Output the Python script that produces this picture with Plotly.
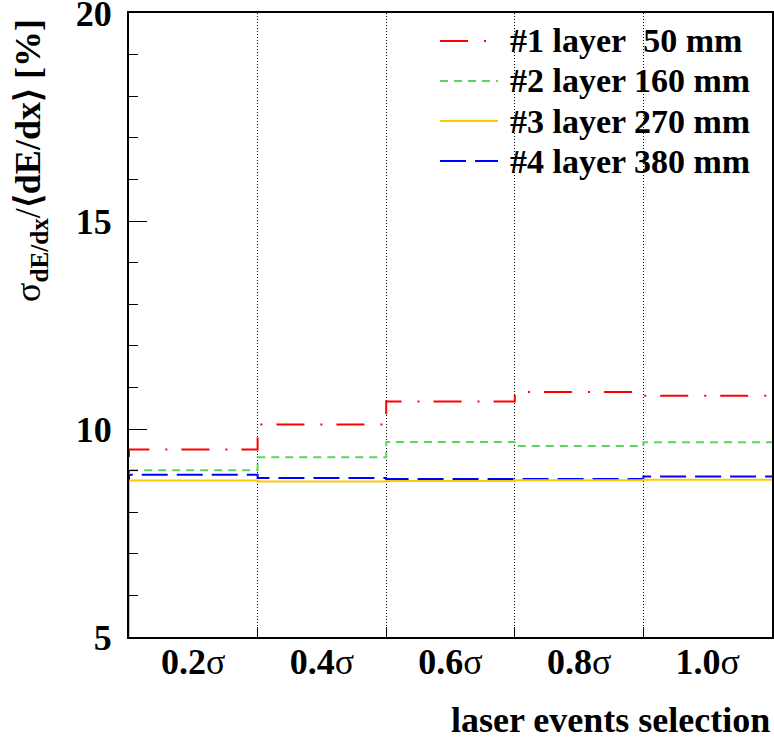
import plotly.graph_objects as go

# ---- data ----
categories = ["0.2", "0.4", "0.6", "0.8", "1.0"]
layer1 = [9.51, 10.11, 10.66, 10.89, 10.80]
layer2 = [9.01, 9.32, 9.69, 9.59, 9.68]
layer3 = [8.76, 8.74, 8.75, 8.77, 8.78]
layer4 = [8.90, 8.82, 8.80, 8.80, 8.86]
series_names = ["#1 layer  50 mm", "#2 layer 160 mm", "#3 layer 270 mm", "#4 layer 380 mm"]
y_ticks = [5, 10, 15, 20]

Y_MIN, Y_MAX = 5, 20
nb = len(categories)
edges = list(range(nb + 1))

styles = [
    dict(color="#ff0000", dash="28px,16px,2px,14px"),
    dict(color="#5ad65a", dash="8px,6px"),
    dict(color="#ffc800", dash="solid"),
    dict(color="#0000ff", dash="26px,9px"),
]
series = [layer1, layer2, layer3, layer4]

FONT = "Liberation Serif"
fig = go.Figure()

draw_order = [0, 1, 3, 2]
for i in draw_order:
    vals = series[i]
    xs = [edges[0]] + edges[:-1] + [edges[-1]]
    ys = [Y_MIN] + vals + [vals[-1]]
    fig.add_trace(go.Scatter(
        x=xs, y=ys, mode="lines", line_shape="hv",
        line=dict(color=styles[i]["color"], width=2, dash=styles[i]["dash"]),
        showlegend=False, hoverinfo="skip",
    ))

# manual legend (long line samples like the original)
W, H = 774, 744
ml, mr, mt, mb = 129, 2, 13, 107
pw, ph = W - ml - mr, H - mt - mb
def px2x(px):
    return (px - ml) / pw
def py2y(py):
    return (H - mb - py) / ph

row_y = [41, 81, 121, 161]
for i, name in enumerate(series_names):
    yy = py2y(row_y[i])
    fig.add_shape(type="line", xref="paper", yref="paper",
                  x0=px2x(440), x1=px2x(498), y0=yy, y1=yy,
                  line=dict(color=styles[i]["color"], width=2, dash=styles[i]["dash"]))
    fig.add_annotation(xref="paper", yref="paper", x=px2x(508), y=yy,
                       xanchor="left", yanchor="middle", showarrow=False,
                       text="<b>" + name.replace("  ", "&nbsp; ") + "</b>",
                       font=dict(family=FONT, size=34, color="black"))

# axis titles
fig.add_annotation(xref="paper", yref="paper", x=px2x(30), y=py2y(161),
                   xanchor="center", yanchor="middle", showarrow=False, textangle=-90,
                   text="σ<sub><b>dE/dx</b></sub>/<b>⟨dE/dx⟩ [%]</b>",
                   font=dict(family=FONT, size=36, color="black"))
fig.add_annotation(xref="paper", yref="paper", x=1.0, y=py2y(720),
                   xanchor="right", yanchor="middle", showarrow=False,
                   text="<b>laser events selection</b>",
                   font=dict(family=FONT, size=36, color="black"))

fig.update_layout(
    width=W, height=H,
    margin=dict(l=ml, r=mr, t=mt, b=mb, pad=0, autoexpand=False),
    paper_bgcolor="white", plot_bgcolor="white",
    showlegend=False,
    font=dict(family=FONT),
    xaxis=dict(
        range=[edges[0], edges[-1]], automargin=False,
        tickmode="array",
        tickvals=[e + 0.5 for e in edges[:-1]],
        ticktext=["<b>" + c + "</b>σ" for c in categories],
        ticks="", showgrid=False, zeroline=False,
        showline=True, linecolor="black", linewidth=2, mirror=True,
        tickfont=dict(family=FONT, size=36, color="black"),
        ticklabelstandoff=-8, ticklabeloverflow="allow",
        minor=dict(tickmode="array", tickvals=edges[1:-1], ticks="inside",
                   ticklen=10, tickcolor="black", tickwidth=1,
                   showgrid=True, gridcolor="black", griddash="1px,2px", gridwidth=1),
    ),
    yaxis=dict(
        range=[Y_MIN, Y_MAX], automargin=False,
        tickmode="array", tickvals=y_ticks,
        ticktext=["<b>%d</b>" % v for v in y_ticks],
        ticks="inside", ticklen=18, tickcolor="black", tickwidth=1,
        showgrid=False, zeroline=False,
        showline=True, linecolor="black", linewidth=2, mirror=True,
        tickfont=dict(family=FONT, size=36, color="black"),
        ticklabelstandoff=8, ticklabeloverflow="allow",
        minor=dict(dtick=1, ticks="inside", ticklen=9, tickcolor="black",
                   tickwidth=1, showgrid=False),
    ),
)

fig.write_html("out.html")
